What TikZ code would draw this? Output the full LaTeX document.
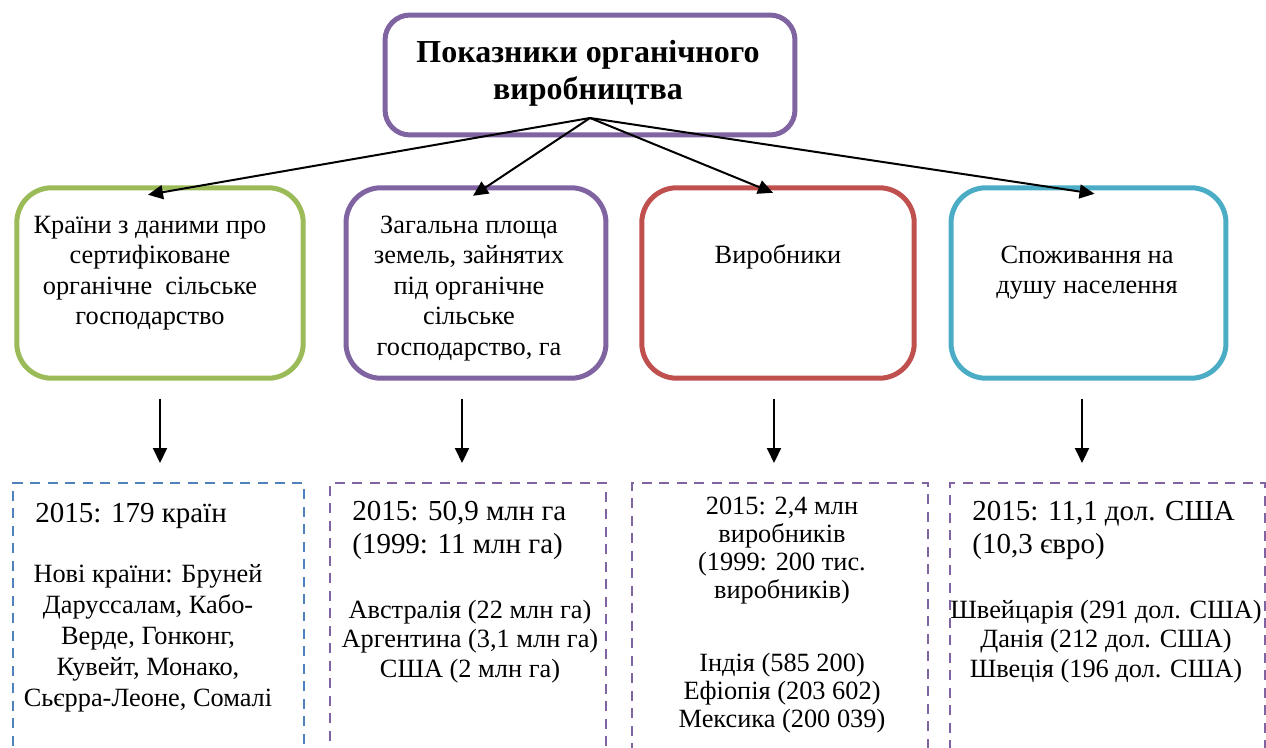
\documentclass[tikz,border=0pt]{standalone}
\usepackage{fontspec}
\setmainfont{Liberation Serif}
\usetikzlibrary{
	positioning,
	arrows.meta
}

\definecolor{grn}{HTML}{9BBB59}
\definecolor{vio}{HTML}{8064A2}
\definecolor{rd}{HTML}{C0504D}
\definecolor{aqua}{HTML}{4BACC6}
\definecolor{blu}{HTML}{4F81BD}

\tikzset{
	headbox/.style={draw=vio,line width=0.1cm,rounded corners=0.5cm,
		minimum width=8.2cm,minimum height=2.4cm,inner sep=0pt,outer sep=0pt},
	catbox/.style={line width=0.1cm,rounded corners=0.7cm,
		minimum height=3.81cm,inner sep=0pt,outer sep=0pt},
	databox/.style={line width=0.05cm,dash pattern=on 0.2cm off 0.15cm,
		minimum height=6.4cm,anchor=north,inner sep=0pt,outer sep=0pt},
	txt/.style={font=\fontsize{15}{17}\selectfont,align=center,anchor=base,inner sep=0pt},
	lead/.style={font=\fontsize{16.5}{18.7}\selectfont,align=left,anchor=base west,inner sep=0pt},
	arr/.style={line width=0.04cm,-{Triangle[length=0.3cm,width=0.28cm]}}
}

\begin{document}
\begin{tikzpicture}[x=0.02cm,y=-0.02cm]
	\useasboundingbox (0,0) rectangle (1266,747);
	\clip (0,0) rectangle (1266,747);

	% frames
	\node[headbox]                                  (top) at (590,75)    {};
	\node[catbox,draw=grn,minimum width=5.73cm]     (c1)  at (160,283)   {};
	\node[catbox,draw=vio,minimum width=5.2cm]      (c2)  at (476,283)   {};
	\node[catbox,draw=rd,minimum width=5.45cm]      (c3)  at (778,283)   {};
	\node[catbox,draw=aqua,minimum width=5.5cm]     (c4)  at (1088.5,283) {};
	\node[databox,draw=blu,minimum width=5.82cm]    (d1)  at (158.5,483) {};
	\node[databox,draw=vio,minimum width=5.52cm]    (d2)  at (468,483)   {};
	\node[databox,draw=vio,minimum width=5.92cm]    (d3)  at (780,483)   {};
	\node[databox,draw=vio,minimum width=6.3cm]     (d4)  at (1107.5,483) {};

	% texts (multi-line nodes sit on their last baseline)
	\node[txt,font=\fontsize{18.2}{20.5}\selectfont\bfseries] (title) at (588,99)
		{Показники органічного\\виробництва};
	\node[txt,font=\fontsize{15}{17.3}\selectfont] (t1) at (150,324.5)
		{Країни з даними про\\сертифіковане\\органічне\ \ сільське\\господарство};
	\node[txt,font=\fontsize{15}{17.3}\selectfont] (t2) at (469,355)
		{Загальна площа\\земель, зайнятих\\під органічне\\сільське\\господарство, га};
	\node[txt] (t3) at (778,263) {Виробники};
	\node[txt,font=\fontsize{15}{17}\selectfont] (t4) at (1087,293)
		{Споживання на\\душу населення};

	\node[lead] (h1) at (35,522) {2015: 179 країн};
	\node[txt,font=\fontsize{15}{17.6}\selectfont] (b1) at (148,706)
		{Нові країни: Бруней\\Даруссалам, Кабо-\\Верде, Гонконг,\\Кувейт, Монако,\\Сьєрра-Леоне, Сомалі};
	\node[lead] (h2) at (352,553) {2015: 50,9 млн га\\(1999: 11 млн га)};
	\node[txt,font=\fontsize{15}{16.7}\selectfont] (b2) at (470,677)
		{Австралія (22 млн га)\\Аргентина (3,1 млн га)\\США (2 млн га)};
	\node[txt,font=\fontsize{15}{15.9}\selectfont] (h3) at (782,598)
		{2015: 2,4 млн\\виробників\\(1999: 200 тис.\\виробників)};
	\node[txt,font=\fontsize{15}{15.7}\selectfont] (b3) at (782,727)
		{Індія (585 200)\\Ефіопія (203 602)\\Мексика (200 039)};
	\node[lead] (h4) at (972,553) {2015: 11,1 дол. США\\(10,3 євро)};
	\node[txt,font=\fontsize{15}{16.7}\selectfont] (b4) at (1106,677)
		{Швейцарія (291 дол. США)\\Данія (212 дол. США)\\Швеція (196 дол. США)};

	% arrows
	\coordinate (hub) at ([yshift=0.34cm]top.south);
	\draw[arr] (hub) -- ([xshift=-0.24cm,yshift=-0.14cm]c1.north);
	\draw[arr] (hub) -- ([xshift=-0.06cm,yshift=-0.16cm]c2.north);
	\draw[arr] (hub) -- ([xshift=-0.1cm,yshift=-0.1cm]c3.north);
	\draw[arr] (hub) -- ([xshift=0.12cm,yshift=-0.12cm]c4.north);

	\draw[arr,shorten <=0.41cm,shorten >=0.4cm] (c1.south) -- (c1.south |- d1.north);
	\draw[arr,shorten <=0.41cm,shorten >=0.4cm] ([xshift=-0.28cm]c2.south) -- ([xshift=-0.28cm]c2.south |- d2.north);
	\draw[arr,shorten <=0.41cm,shorten >=0.4cm] ([xshift=-0.08cm]c3.south) -- ([xshift=-0.08cm]c3.south |- d3.north);
	\draw[arr,shorten <=0.41cm,shorten >=0.4cm] ([xshift=-0.13cm]c4.south) -- ([xshift=-0.13cm]c4.south |- d4.north);
\end{tikzpicture}
\end{document}
